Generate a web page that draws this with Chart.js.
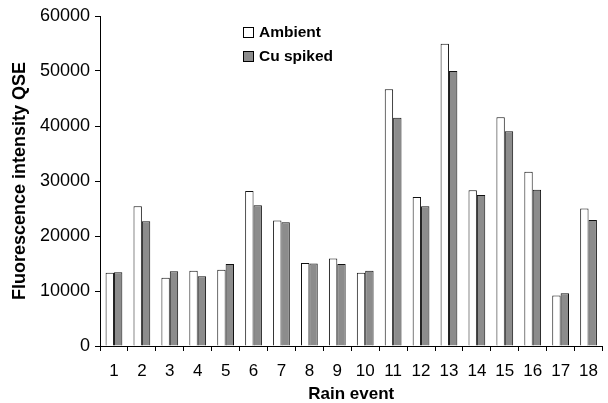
<!DOCTYPE html>
<html>
<head>
<meta charset="utf-8">
<script src="https://cdn.jsdelivr.net/npm/chart.js@4/dist/chart.umd.min.js"></script>
<style>
  html, body { margin: 0; padding: 0; background: #fff; }
  #wrap { width: 608px; height: 403px; }
</style>
</head>
<body>
<div id="wrap"><canvas id="chart"></canvas></div>
<script>
// Rain events 1..18
const rainEvents = ['1', '2', '3', '4', '5', '6', '7', '8', '9', '10', '11', '12', '13', '14', '15', '16', '17', '18'];

// Fluorescence intensity (QSE)
const ambient = [13300, 25400, 12400, 13700, 13850, 28200, 22800, 15100, 15900, 13300, 46700, 27100, 54950, 28300, 41600, 31700, 9200, 25000];
const cuSpiked = [13400, 22700, 13600, 12700, 14900, 25600, 22500, 15000, 14900, 13700, 41500, 25400, 50000, 27450, 39050, 28400, 9600, 22900];

const yTicks = [0, 10000, 20000, 30000, 40000, 50000, 60000];

const fontFamily = '"Liberation Sans", Arial, sans-serif';

// Legend drawn inside the plot, like the original
const insideLegend = {
    id: 'insideLegend',
    afterDraw(chart) {
        const ctx = chart.ctx;
        ctx.save();
        ctx.font = 'bold 15.5px ' + fontFamily;
        ctx.textBaseline = 'middle';
        chart.data.datasets.forEach((ds, i) => {
            const x = 243, y = 27 + i * 24;
            ctx.fillStyle = ds.backgroundColor;
            ctx.fillRect(x, y, 11, 11);
            ctx.strokeStyle = '#000';
            ctx.lineWidth = 1;
            ctx.strokeRect(x + 0.5, y + 0.5, 10, 10);
            ctx.fillStyle = '#000';
            ctx.fillText(ds.label, x + 16, y + 6);
        });
        ctx.restore();
    }
};

new Chart(document.getElementById('chart').getContext('2d'), {
    type: 'bar',
    data: {
        labels: rainEvents,
        datasets: [
            { label: 'Ambient', data: ambient, backgroundColor: '#ffffff', borderColor: '#111', borderWidth: 1 },
            { label: 'Cu spiked', data: cuSpiked, backgroundColor: '#8c8c8c', borderColor: '#111', borderWidth: 1 }
        ]
    },
    options: {
        responsive: true,
        maintainAspectRatio: false,
        animation: false,
        layout: { padding: { top: 16, right: 0, left: 0, bottom: 0 } },
        datasets: { bar: { categoryPercentage: 0.6, barPercentage: 1.0 } },
        plugins: {
            legend: { display: false },
            tooltip: { enabled: false }
        },
        scales: {
            x: {
                grid: { display: true, drawOnChartArea: false, color: '#000', tickLength: 5, offset: true },
                border: { color: '#000', width: 1 },
                ticks: { color: '#000', font: { family: fontFamily, size: 17 }, padding: 10 },
                title: { display: true, text: 'Rain event', color: '#000', font: { family: fontFamily, size: 17, weight: 'bold', lineHeight: 1 }, padding: { top: 0, bottom: 0 } },
                afterFit(scale) { scale.height = 57; }
            },
            y: {
                min: 0,
                max: 60000,
                afterBuildTicks(scale) { scale.ticks = yTicks.map(v => ({ value: v })); },
                grid: { display: true, drawOnChartArea: false, color: '#000', tickLength: 5 },
                border: { color: '#000', width: 1 },
                ticks: { color: '#000', font: { family: fontFamily, size: 18 }, padding: 5, callback: v => String(v) },
                title: { display: true, text: 'Fluorescence intensity QSE', color: '#000', font: { family: fontFamily, size: 18, weight: 'bold' }, padding: { top: 9, bottom: 0 } },
                afterFit(scale) { scale.width = 100; }
            }
        }
    },
    plugins: [insideLegend]
});
</script>
</body>
</html>
